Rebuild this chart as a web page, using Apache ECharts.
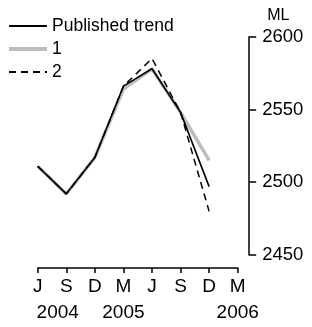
<!DOCTYPE html>
<html>
<head>
<meta charset="utf-8">
<script src="https://cdn.jsdelivr.net/npm/echarts@6/dist/echarts.min.js"></script>
<style>
  html, body { margin: 0; padding: 0; background: #fff; }
  #chart { width: 312px; height: 327px; }
</style>
</head>
<body>
<div id="chart"></div>
<script>
// quarter labels along the x axis (J 2004 .. M 2006)
const months = ['J', 'S', 'D', 'M', 'J', 'S', 'D', 'M'];
const yearLabels = ['2004', '2005', '2006'];
const yearPos = [0.7, 3, 7];

// trend estimates, ML
const publishedTrend = [2511, 2492, 2517, 2566, 2578, 2548, 2497];
const trend1 = [2511, 2492, 2517, 2564, 2578, 2548, 2515];
const trend2 = [2511, 2492, 2517, 2566, 2585, 2548, 2480];

const FONT = '"Liberation Sans", Arial, sans-serif';
const toPairs = arr => arr.map((v, i) => [i, v]);

const chart = echarts.init(document.getElementById('chart'));
chart.setOption({
    animation: false,
    backgroundColor: '#fff',
    grid: { left: 37.7, right: 74.3, top: 36.7, bottom: 72 },
    legend: {
        orient: 'vertical', left: 7, top: 17, padding: 0,
        itemWidth: 38, itemHeight: 14, itemGap: 5,
        itemStyle: { color: 'transparent', borderColor: 'transparent', borderWidth: 0 },
        textStyle: { fontFamily: FONT, fontSize: 17.5, color: '#000', lineHeight: 18 },
        data: [
            { name: 'Published trend' },
            { name: '1', lineStyle: { width: 4 } },
            { name: '2' }
        ]
    },
    xAxis: [{
        type: 'value', min: 0, max: 7, interval: 1, offset: 13,
        axisLine: { onZero: false, lineStyle: { color: '#000', width: 1.5 } },
        axisTick: { length: 5, lineStyle: { color: '#000', width: 1.5 } },
        splitLine: { show: false },
        axisLabel: { margin: 9, color: '#000', fontFamily: FONT, fontSize: 19, formatter: v => months[v] || '' }
    }, {
        type: 'value', min: 0, max: 7, offset: 40, position: 'bottom',
        axisLine: { show: false }, axisTick: { show: false }, splitLine: { show: false },
        axisLabel: {
            customValues: yearPos, margin: 8, color: '#000', fontFamily: FONT, fontSize: 19,
            formatter: v => yearLabels[yearPos.indexOf(v)] || ''
        }
    }],
    yAxis: {
        type: 'value', position: 'right', min: 2450, max: 2600, interval: 50, offset: 11.5,
        name: 'ML', nameLocation: 'end', nameGap: 13,
        nameTextStyle: { fontFamily: FONT, fontSize: 16, color: '#000', align: 'left', padding: [0, 0, 0, 18] },
        axisLine: { show: true, onZero: false, lineStyle: { color: '#000', width: 1.5 } },
        axisTick: { show: true, inside: false, length: 7, lineStyle: { color: '#000', width: 1.5 } },
        splitLine: { show: false },
        axisLabel: { margin: 13, color: '#000', fontFamily: FONT, fontSize: 18.5, formatter: v => String(v) }
    },
    series: [{
        name: '1', type: 'line', data: toPairs(trend1), symbol: 'none', z: 1,
        lineStyle: { color: '#bdbdbd', width: 3.5 }, itemStyle: { color: '#bdbdbd' }
    }, {
        name: '2', type: 'line', data: toPairs(trend2), symbol: 'none', z: 2,
        lineStyle: { color: '#000', width: 1.5, type: [7, 5] }, itemStyle: { color: '#000' }
    }, {
        name: 'Published trend', type: 'line', data: toPairs(publishedTrend), symbol: 'none', z: 3,
        lineStyle: { color: '#000', width: 1.6 }, itemStyle: { color: '#000' }
    }]
});
</script>
</body>
</html>
